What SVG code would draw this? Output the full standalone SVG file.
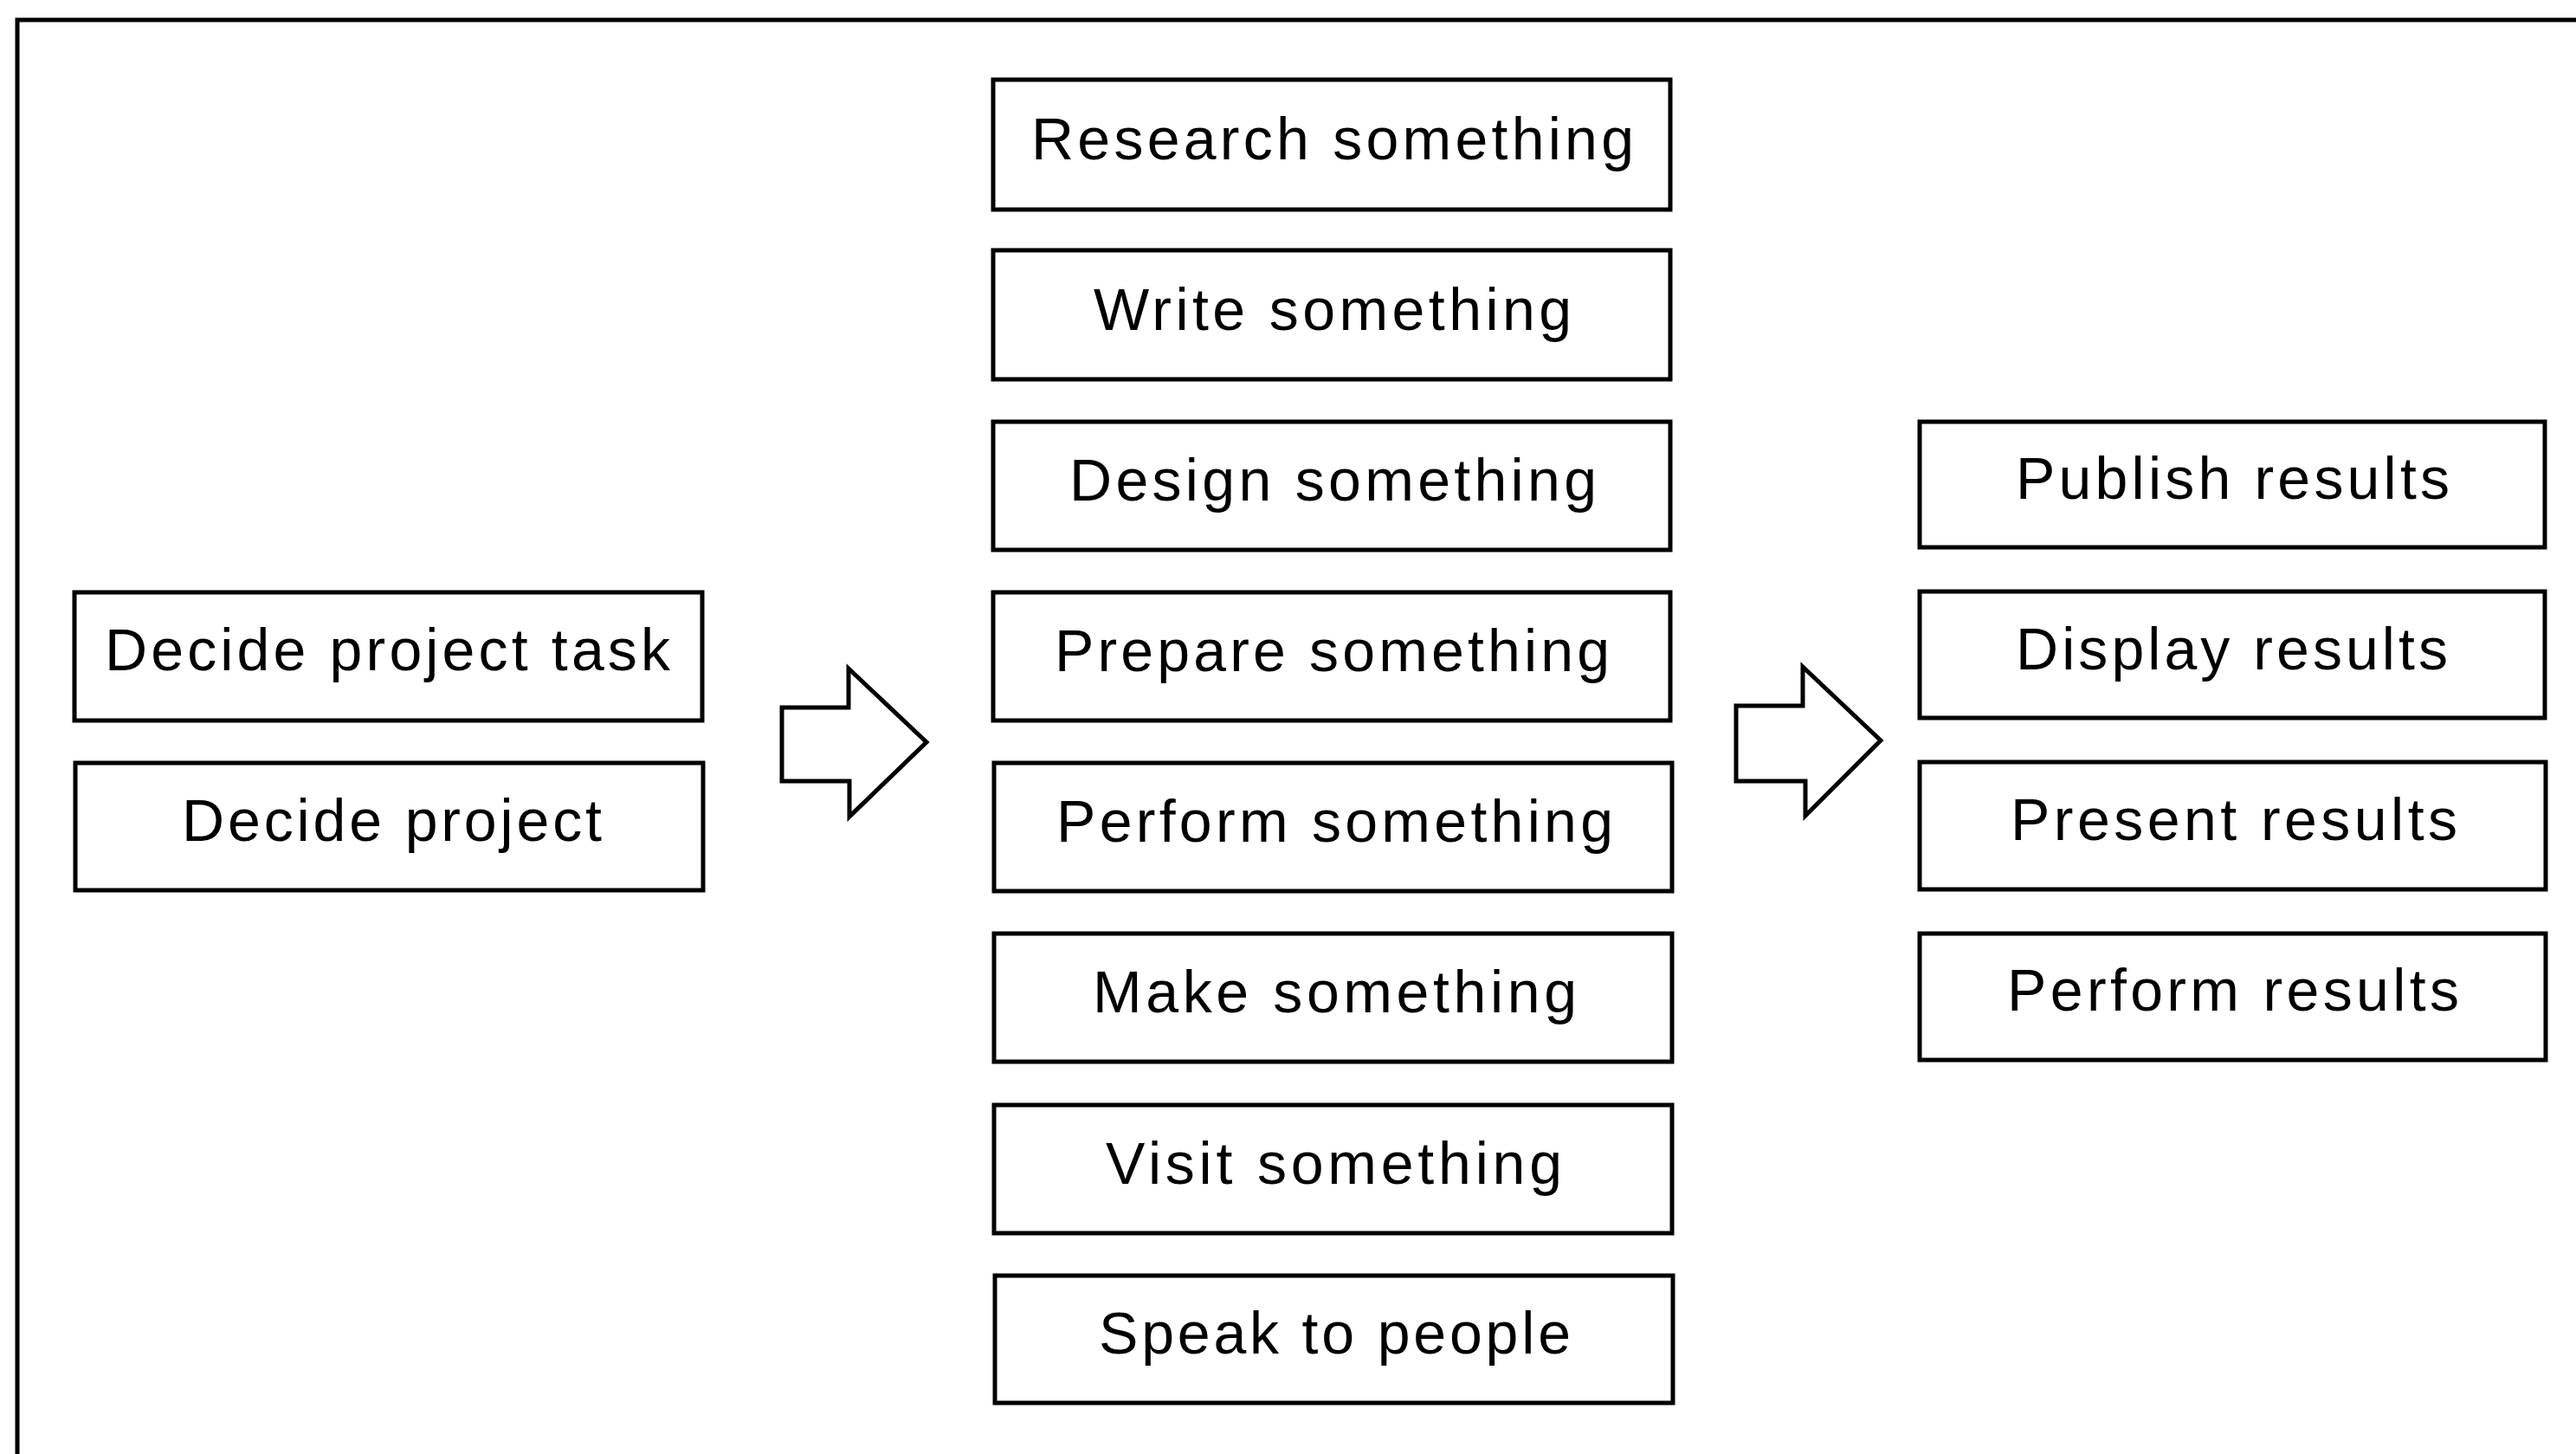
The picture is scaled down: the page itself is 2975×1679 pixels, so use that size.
<svg xmlns="http://www.w3.org/2000/svg" width="2975" height="1679" viewBox="0 0 2975 1679">
<style>
.box{fill:#fff;stroke:#000;stroke-width:5}
.arr{fill:#fff;stroke:#000;stroke-width:5;stroke-linejoin:miter}
.lbl{font-family:"Liberation Sans",Arial,sans-serif;font-size:68px;fill:#000}
.frame{fill:none;stroke:#000;stroke-width:5}
</style>
<rect width="2975" height="1679" fill="#fff"/>
<path class="frame" d="M20,1679 V23 H2975"/>
<g id="n-decide-task"><rect class="box" x="86" y="684" width="725" height="148"/><text class="lbl" x="121" y="774" textLength="653" lengthAdjust="spacing">Decide project task</text></g>
<g id="n-decide-project"><rect class="box" x="87" y="881" width="725" height="147"/><text class="lbl" x="210" y="971" textLength="485" lengthAdjust="spacing">Decide project</text></g>
<g id="n-research"><rect class="box" x="1147" y="92" width="782" height="150"/><text class="lbl" x="1191" y="184" textLength="696" lengthAdjust="spacing">Research something</text></g>
<g id="n-write"><rect class="box" x="1147" y="289" width="782" height="149"/><text class="lbl" x="1263" y="381" textLength="552" lengthAdjust="spacing">Write something</text></g>
<g id="n-design"><rect class="box" x="1147" y="487" width="782" height="148"/><text class="lbl" x="1235" y="578" textLength="609" lengthAdjust="spacing">Design something</text></g>
<g id="n-prepare"><rect class="box" x="1147" y="684" width="782" height="148"/><text class="lbl" x="1218" y="775" textLength="641" lengthAdjust="spacing">Prepare something</text></g>
<g id="n-perform"><rect class="box" x="1148" y="881" width="783" height="148"/><text class="lbl" x="1220" y="972" textLength="643" lengthAdjust="spacing">Perform something</text></g>
<g id="n-make"><rect class="box" x="1148" y="1078" width="783" height="148"/><text class="lbl" x="1262" y="1169" textLength="559" lengthAdjust="spacing">Make something</text></g>
<g id="n-visit"><rect class="box" x="1148" y="1276" width="783" height="148"/><text class="lbl" x="1277" y="1367" textLength="527" lengthAdjust="spacing">Visit something</text></g>
<g id="n-speak"><rect class="box" x="1149" y="1473" width="783" height="147"/><text class="lbl" x="1269" y="1563" textLength="545" lengthAdjust="spacing">Speak to people</text></g>
<g id="n-publish"><rect class="box" x="2217" y="487" width="722" height="145"/><text class="lbl" x="2328" y="576" textLength="501" lengthAdjust="spacing">Publish results</text></g>
<g id="n-display"><rect class="box" x="2217" y="683" width="722" height="146"/><text class="lbl" x="2328" y="773" textLength="499" lengthAdjust="spacing">Display results</text></g>
<g id="n-present"><rect class="box" x="2217" y="880" width="723" height="147"/><text class="lbl" x="2322" y="970" textLength="516" lengthAdjust="spacing">Present results</text></g>
<g id="n-perform-results"><rect class="box" x="2217" y="1078" width="723" height="146"/><text class="lbl" x="2318" y="1167" textLength="522" lengthAdjust="spacing">Perform results</text></g>
<g id="connectors">
<path class="arr" d="M903,817 H980 V772 L1070,857 L981,943 V902 H903 Z"/>
<path class="arr" d="M2005,815 H2082 V770 L2172,855 L2085,942 V902 H2005 Z"/>
</g>
</svg>
